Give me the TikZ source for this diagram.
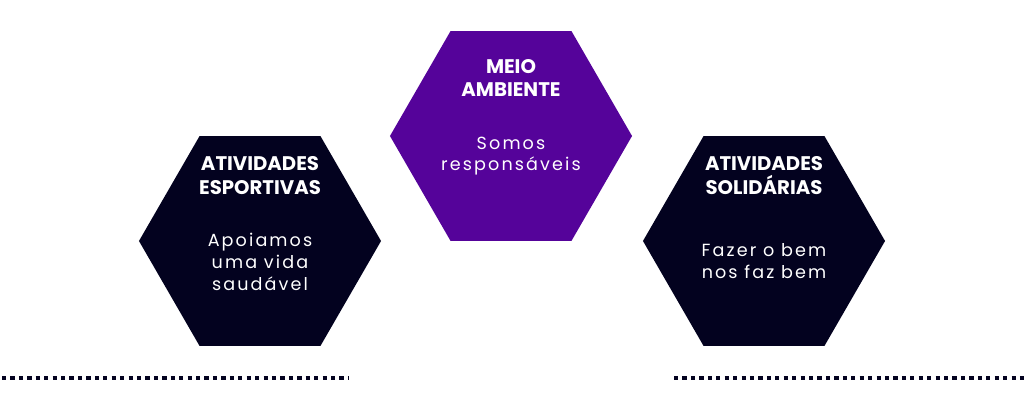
\documentclass[tikz,border=0pt]{standalone}
\usepackage{fontspec}
\setmainfont{Poppins}
\usetikzlibrary{shapes.geometric, positioning}
\definecolor{navy}{HTML}{03021F}
\definecolor{violet}{HTML}{55039A}

\begin{document}
\begin{tikzpicture}[x=0.025cm, y=-0.025cm,
        hexa/.style={regular polygon, regular polygon sides=6, minimum size=6.05cm, inner sep=0pt, draw=none},
        title/.style={text=white, font=\fontsize{14}{17}\selectfont\bfseries, align=center},
        motto/.style={text=white, font=\fontsize{12.5}{15.5}\selectfont\addfontfeatures{LetterSpace=12}, align=center},
        dots/.style={line width=3pt, navy, dash pattern=on 3pt off 3pt}
    ]
        \useasboundingbox (0,0) rectangle (1024,412);
        % Hexagons
        \node[hexa, fill=navy] (sport) at (260,241) {};
        \node[hexa, fill=violet] (nature) at (511,136) {};
        \node[hexa, fill=navy] (help) at (764,241) {};

        % Texts
        \node[title] (sporttitle) at (260,176) {ATIVIDADES\\ESPORTIVAS};
        \node[motto] (sportmotto) at (260,262) {Apoiamos\\uma vida\\saudável};
        \node[title] (naturetitle) at (511,78) {MEIO\\AMBIENTE};
        \node[motto] (naturemotto) at (511,156) {Somos\\responsáveis};
        \node[title] (helptitle) at (764,176) {ATIVIDADES\\SOLIDÁRIAS};
        \node[motto] (helpmotto) at (764,261) {Fazer o bem\\nos faz bem};

        % Dotted rules
        \coordinate (la) at (2,378);
        \coordinate (lb) at (348,378);
        \coordinate (ra) at (674,378);
        \coordinate (rb) at (1024,378);
        \draw[dots] (la) -- (lb);
        \draw[dots] (ra) -- (rb);
    \end{tikzpicture}
\end{document}
